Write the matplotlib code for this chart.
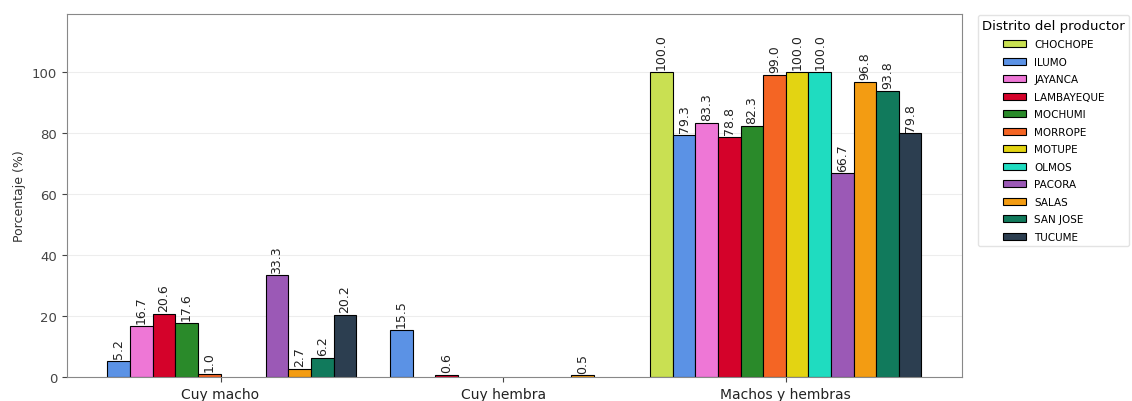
import numpy as np
import matplotlib
matplotlib.use("Agg")
import matplotlib.pyplot as plt

# Categories and districts
categories = ["Cuy macho", "Cuy hembra", "Machos y hembras"]
districts = ["CHOCHOPE", "ILUMO", "JAYANCA", "LAMBAYEQUE", "MOCHUMI", "MORROPE",
             "MOTUPE", "OLMOS", "PACORA", "SALAS", "SAN JOSE", "TUCUME"]

# Percentages per district: [Cuy macho, Cuy hembra, Machos y hembras]
chochope = [0.0, 0.0, 100.0]
ilumo = [5.2, 15.5, 79.3]
jayanca = [16.7, 0.0, 83.3]
lambayeque = [20.6, 0.6, 78.8]
mochumi = [17.6, 0.0, 82.3]
morrope = [1.0, 0.0, 99.0]
motupe = [0.0, 0.0, 100.0]
olmos = [0.0, 0.0, 100.0]
pacora = [33.3, 0.0, 66.7]
salas = [2.7, 0.5, 96.8]
san_jose = [6.2, 0.0, 93.8]
tucume = [20.2, 0.0, 79.8]

values = [chochope, ilumo, jayanca, lambayeque, mochumi, morrope,
          motupe, olmos, pacora, salas, san_jose, tucume]

colors = ["#c9e052", "#5b92e5", "#ee77d6", "#d4022a", "#2a8a2a", "#f46524",
          "#e3d412", "#1fdcc0", "#9b59b6", "#f39c12", "#117a5c", "#2c3e50"]

fig, ax = plt.subplots(figsize=(11.32, 4.02), dpi=100)
fig.subplots_adjust(left=0.059, right=0.850, top=0.963, bottom=0.06)

x = np.arange(len(categories))
width = 0.08
n = len(districts)

# One bar series per district, value labels only on non-zero bars
for i, (name, vals, col) in enumerate(zip(districts, values, colors)):
    vals = np.array(vals)
    offset = (i - (n - 1) / 2) * width
    mask = vals > 0
    bars = ax.bar(x[mask] + offset, vals[mask], width, color=col,
                  edgecolor="black", linewidth=0.8, label=name)
    ax.bar_label(bars, labels=[f"{v:.1f}" for v in vals[mask]],
                 rotation=90, padding=2, fontsize=9, color="#222222")

ax.set_xticks(x)
ax.set_xticklabels(categories, fontsize=10)
ax.set_ylim(0, 119)
ax.set_yticks(np.arange(0, 101, 20))
ax.tick_params(axis="y", labelsize=9.5, colors="#444444")
ax.tick_params(axis="x", colors="#444444")
for lab in ax.get_xticklabels():
    lab.set_color("#222222")
ax.set_ylabel("Porcentaje (%)", fontsize=9, color="#333333")

ax.yaxis.grid(True, color="#dddddd", alpha=0.5, linewidth=0.8)
ax.set_axisbelow(True)
for sp in ax.spines.values():
    sp.set_color("#888888")

leg = ax.legend(title="Distrito del productor", loc="upper left",
                bbox_to_anchor=(1.012, 1.012), fontsize=7.5, title_fontsize=9.5,
                labelspacing=0.72, handlelength=2.2, frameon=True,
                edgecolor="#dddddd")

plt.savefig("out.png", dpi=100)
